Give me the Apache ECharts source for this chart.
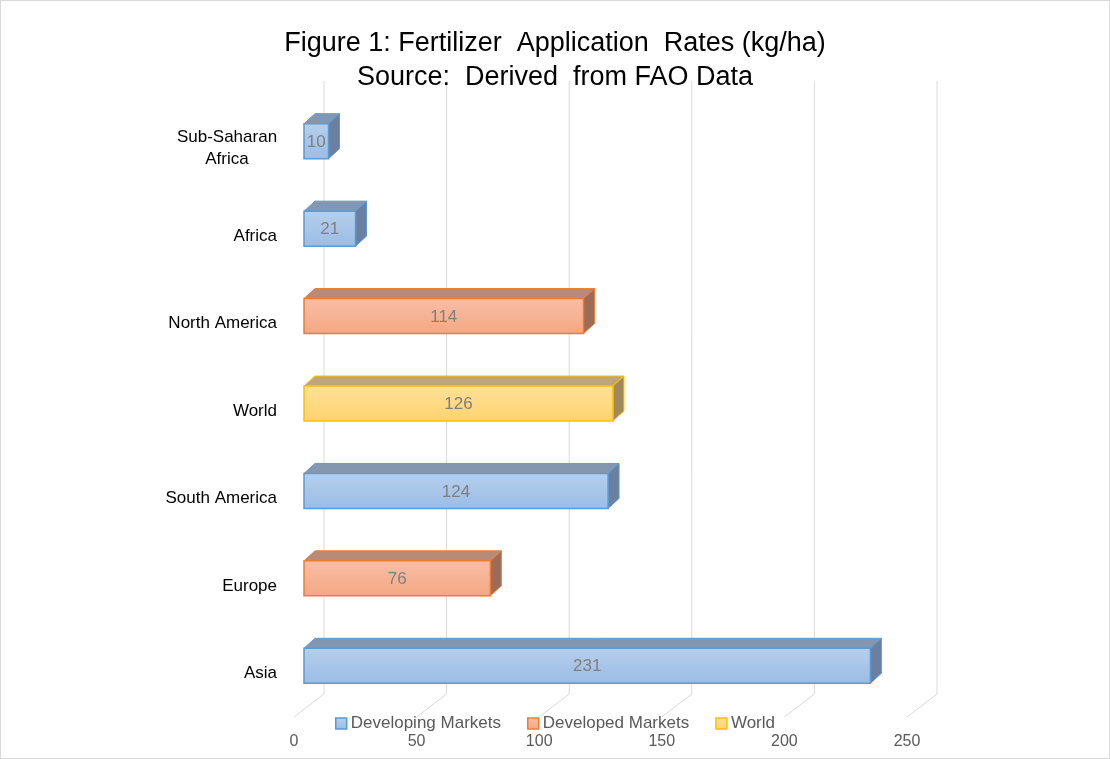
<!DOCTYPE html>
<html>
<head>
<meta charset="utf-8">
<script src="https://cdn.jsdelivr.net/npm/echarts@6/dist/echarts.min.js"></script>
<style>
  html, body { margin: 0; padding: 0; background: #fff; }
  #chart { width: 1108px; height: 757px; border: 1px solid #d9d9d9; }
</style>
</head>
<body>
<div id="chart"></div>
<script>
// categories top to bottom
const categories = ['Sub-Saharan\nAfrica', 'Africa', 'North America', 'World', 'South America', 'Europe', 'Asia']
const values = [10, 21, 114, 126, 124, 76, 231]
const groups = ['Developing Markets', 'Developing Markets', 'Developed Markets', 'World', 'Developing Markets', 'Developed Markets', 'Developing Markets']
const groupNames = ['Developing Markets', 'Developed Markets', 'World']
const xTicks = [0, 50, 100, 150, 200, 250]

const FONT = '"Liberation Sans", Arial, sans-serif'

const palette = {
  'Developing Markets': { top: '#b6cfec', bottom: '#9bbce6', border: '#5b9bd5', lid: '#8497b0', side: '#6b80a0' },
  'Developed Markets': { top: '#f9bea6', bottom: '#f4a783', border: '#ed7d31', lid: '#b88a77', side: '#9c6c59' },
  'World': { top: '#ffe09a', bottom: '#ffd36d', border: '#ffc000', lid: '#c0a577', side: '#a08a5c' },
}

function frontGradient(c) {
  return new echarts.graphic.LinearGradient(0, 0, 0, 1, [
    { offset: 0, color: c.top },
    { offset: 1, color: c.bottom },
  ])
}

// depth offsets of the bar box
const DX = 11, DY = -10

function renderBar(params, api) {
  const c = palette[params.seriesName]
  const v = api.value(0)
  const idx = api.value(1)
  const p0 = api.coord([0, idx])
  const p1 = api.coord([v, idx])
  const x0 = p0[0] + 10, x1 = p1[0] + 10
  const y0 = p0[1] - 25, y1 = p0[1] + 10
  return {
    type: 'group',
    children: [
      {
        type: 'polygon',
        shape: { points: [[x0, y0], [x0 + DX, y0 + DY], [x1 + DX, y0 + DY], [x1, y0]] },
        style: { fill: c.lid, stroke: c.border, lineWidth: 1 },
      },
      {
        type: 'polygon',
        shape: { points: [[x1, y0], [x1 + DX, y0 + DY], [x1 + DX, y1 + DY], [x1, y1]] },
        style: { fill: c.side, stroke: c.border, lineWidth: 1 },
      },
      {
        type: 'rect',
        shape: { x: x0, y: y0, width: x1 - x0, height: y1 - y0 },
        style: { fill: frontGradient(c), stroke: c.border, lineWidth: 1.5 },
      },
      {
        type: 'text',
        style: {
          text: String(v), x: (x0 + x1) / 2, y: (y0 + y1) / 2 + 1,
          align: 'center', verticalAlign: 'middle',
          fill: '#7f7f7f', font: '17px ' + FONT,
        },
      },
    ],
  }
}

function renderGrid(params, api) {
  const x = api.coord([api.value(0), 0])[0]
  const bottom = params.coordSys.y + params.coordSys.height
  return {
    type: 'polyline',
    shape: { points: [[x + 30, 80], [x + 30, bottom - 23], [x, bottom]] },
    style: { stroke: '#d9d9d9', lineWidth: 1, fill: null },
  }
}

const series = [{
  name: 'grid',
  type: 'custom',
  renderItem: renderGrid,
  data: xTicks.map(t => [t, 0]),
  encode: { x: 0, y: 1 },
  z: 1,
  silent: true,
}]

groupNames.forEach(g => {
  const c = palette[g]
  series.push({
    name: g,
    type: 'custom',
    renderItem: renderBar,
    encode: { x: 0, y: 1 },
    itemStyle: { color: c.bottom, borderColor: c.border, borderWidth: 1 },
    data: values.map((v, i) => [v, i]).filter((d, i) => groups[i] === g),
    z: 2,
  })
})

const chart = echarts.init(document.getElementById('chart'))
chart.setOption({
  animation: false,
  title: {
    text: 'Figure 1: Fertilizer  Application  Rates (kg/ha)\nSource:  Derived  from FAO Data',
    left: 'center',
    top: 21,
    textStyle: { fontFamily: FONT, fontSize: 27, fontWeight: 'normal', color: '#000', lineHeight: 34 },
  },
  legend: {
    data: groupNames.map(g => ({
      name: g,
      icon: 'rect',
      itemStyle: { color: frontGradient(palette[g]), borderColor: palette[g].border, borderWidth: 1.5 },
    })),
    top: 709,
    left: 'center',
    itemWidth: 11,
    itemHeight: 11,
    itemGap: 26,
    textStyle: { fontFamily: FONT, fontSize: 17, color: '#595959', padding: [0, 0, 0, -1] },
  },
  grid: { left: 293, top: 104, width: 613, height: 612 },
  xAxis: {
    type: 'value',
    min: 0,
    max: 250,
    interval: 50,
    axisLine: { show: false },
    axisTick: { show: false },
    splitLine: { show: false },
    axisLabel: { margin: 17, fontFamily: FONT, fontSize: 16, color: '#595959' },
  },
  yAxis: {
    type: 'category',
    inverse: true,
    data: categories,
    axisLine: { show: false },
    axisTick: { show: false },
    axisLabel: {
      margin: 17,
      fontFamily: FONT,
      fontSize: 17,
      color: '#000',
      formatter: v => v.indexOf('\n') >= 0 ? v.split('\n').map(s => '{c|' + s + '}').join('\n') : v,
      rich: { c: { width: 100, align: 'center', fontFamily: FONT, fontSize: 17, color: '#000', lineHeight: 22 } },
    },
  },
  series: series,
})
</script>
</body>
</html>
